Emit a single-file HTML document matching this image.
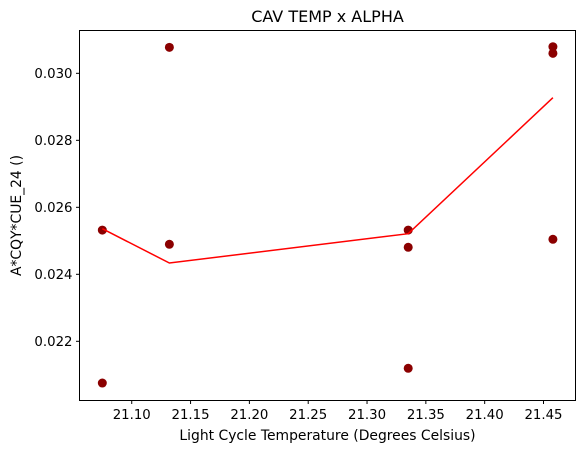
<!DOCTYPE html>
<html><head><meta charset="utf-8"><style>body{margin:0;background:#fff}svg{display:block;font-family:"DejaVu Sans","Liberation Sans",sans-serif}</style></head>
<body>
<svg id="chart" width="585" height="453" viewBox="0 0 585 453" xmlns="http://www.w3.org/2000/svg"></svg>
<script>
const xTicks=[21.10,21.15,21.20,21.25,21.30,21.35,21.40,21.45];
const yTicks=[0.022,0.024,0.026,0.028,0.030];
const pointX=[21.075,21.075,21.132,21.132,21.335,21.335,21.335,21.458,21.458,21.458];
const pointY=[0.02532,0.020755,0.030776,0.024896,0.02532,0.024806,0.021194,0.030794,0.030597,0.025045];
const lineX=[21.075,21.132,21.335,21.458];
const lineY=[0.025361,0.024337,0.025212,0.029272];
const L=79.5,R=575.5,T=30.5,B=400.5;
const xMin=21.0556,xMax=21.4772,yMin=0.020233,yMax=0.031278;
const sx=v=>L+(v-xMin)/(xMax-xMin)*(R-L);
const sy=v=>B-(v-yMin)/(yMax-yMin)*(B-T);
const svg=document.getElementById('chart');
const NS='http://www.w3.org/2000/svg';
function mk(tag,attrs,parent){const e=document.createElementNS(NS,tag);for(const k in attrs)e.setAttribute(k,attrs[k]);(parent||svg).appendChild(e);return e;}
pointX.forEach((x,i)=>{const c=mk('circle',{cx:sx(x),cy:sy(pointY[i]),r:4.5,fill:'#8b0000'});

});
const pl=mk('polyline',{points:lineX.map((x,i)=>sx(x)+','+sy(lineY[i])).join(' '),fill:'none',stroke:'#ff0000','stroke-width':1.5});


const fr=mk('rect',{x:L,y:T,width:R-L,height:B-T,fill:'none',stroke:'#000','stroke-width':1});


xTicks.forEach(v=>{const x=sx(v);mk('line',{x1:x,x2:x,y1:B,y2:B+3.5,stroke:'#000'});
const t=mk('text',{x:x,y:B+18.5,'text-anchor':'middle','font-size':13.3,fill:'#000'});t.textContent=v.toFixed(2);

});
yTicks.forEach(v=>{const y=sy(v);mk('line',{x1:L-3.5,x2:L,y1:y,y2:y,stroke:'#000'});
const t=mk('text',{x:L-7,y:y+4.8,'text-anchor':'end','font-size':13.3,fill:'#000'});t.textContent=v.toFixed(3);

});
</script>
<svg style="position:absolute;left:0;top:0" width="585" height="453">
<text x="327.5" y="22" text-anchor="middle" font-size="16" font-family="DejaVu Sans, Liberation Sans, sans-serif">CAV TEMP x ALPHA</text>
<text x="327.5" y="440" text-anchor="middle" font-size="13.9" font-family="DejaVu Sans, Liberation Sans, sans-serif">Light Cycle Temperature (Degrees Celsius)</text>
<text transform="translate(21,215.5) rotate(-90)" text-anchor="middle" font-size="13.9" font-family="DejaVu Sans, Liberation Sans, sans-serif">A*CQY*CUE_24 ()</text>
</svg>
</body></html>
